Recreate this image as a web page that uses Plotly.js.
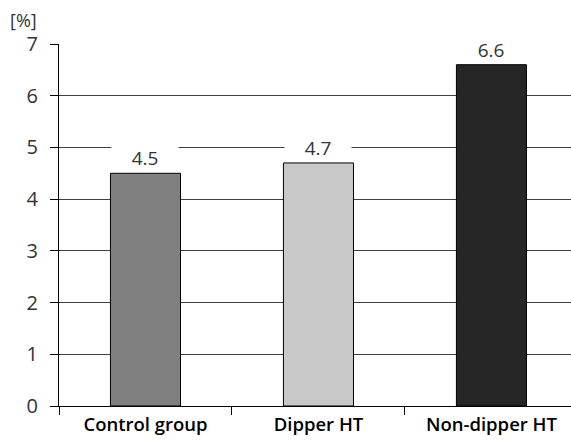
<!DOCTYPE html>
<html>
<head>
<meta charset="utf-8">
<script src="https://cdn.plot.ly/plotly-3.0.1.min.js"></script>
<style>html,body{margin:0;padding:0;background:#fff;}#chart{width:571px;height:441px;}</style>
</head>
<body>
<div id="chart"></div>
<script>
const categories = ["Control group", "Dipper HT", "Non-dipper HT"];
const values = [4.5, 4.7, 6.6];
const valueLabels = ["4.5", "4.7", "6.6"];
const barColors = ["#808080", "#c8c8c8", "#262626"];
const yTicks = [0, 1, 2, 3, 4, 5, 6, 7];

const trace = {
  type: "bar",
  x: categories,
  y: values,
  width: 0.405,
  marker: {color: barColors, line: {color: "#000", width: 1}},
  hoverinfo: "none"
};

const annotations = categories.map((c, i) => ({
  x: c, y: values[i], xref: "x", yref: "y",
  text: valueLabels[i], showarrow: false,
  yanchor: "bottom", yshift: 1,
  bgcolor: "#fff", width: 66, borderpad: 0,
  font: {family: "Open Sans", size: 19, color: "#333"}
}));
annotations.push({
  xref: "paper", yref: "paper", x: -0.097, y: 1.0, xanchor: "left", yanchor: "bottom", yshift: 11,
  text: "[%]", showarrow: false, borderpad: 0,
  font: {family: "Open Sans", size: 18, color: "#333"}
});

const layout = {
  width: 571, height: 441,
  margin: {l: 59, r: 0, t: 44, b: 35},
  paper_bgcolor: "#fff", plot_bgcolor: "#fff",
  showlegend: false,
  xaxis: {
    type: "category",
    range: [-0.5, 2.46],
    tickson: "boundaries",
    ticks: "outside", ticklen: 8, tickcolor: "#000", tickwidth: 1,
    showline: true, linecolor: "#000", linewidth: 1,
    showgrid: false, zeroline: false,
    ticklabelstandoff: 2,
    tickfont: {family: "Open Sans", size: 18.5, color: "#000", weight: 600},
    fixedrange: true
  },
  yaxis: {
    range: [0, 7],
    tickvals: yTicks,
    ticks: "outside", ticklen: 8, tickcolor: "#000", tickwidth: 1,
    showline: true, linecolor: "#000", linewidth: 1,
    showgrid: true, gridcolor: "#404040", gridwidth: 1,
    zeroline: false,
    ticklabelstandoff: 8,
    tickfont: {family: "Open Sans", size: 20, color: "#333"},
    fixedrange: true
  },
  annotations: annotations
};

Plotly.newPlot("chart", [trace], layout, {displayModeBar: false, staticPlot: true});
</script>
</body>
</html>
